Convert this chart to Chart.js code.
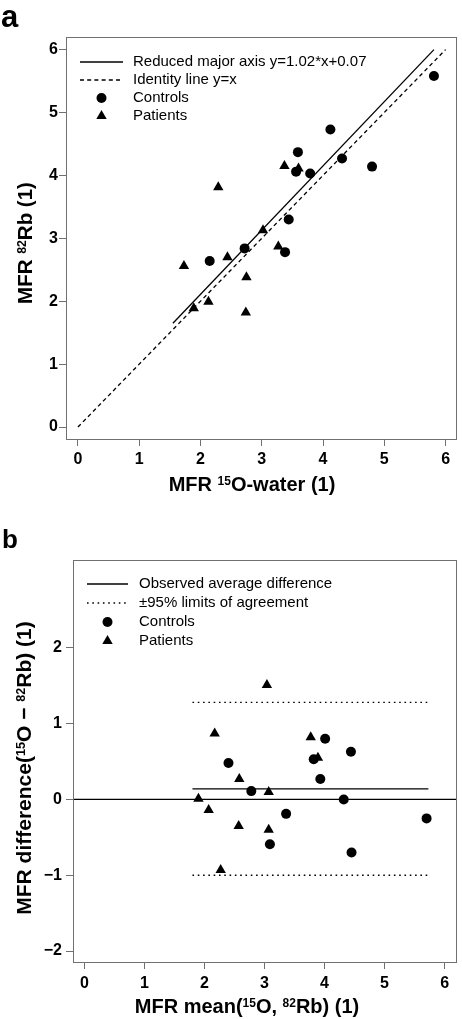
<!DOCTYPE html>
<html>
<head>
<meta charset="utf-8">
<script src="https://cdn.jsdelivr.net/npm/chart.js@4.4.1/dist/chart.umd.min.js"></script>
<style>
  body { margin: 0; background: #fff; }
  canvas { position: absolute; left: 0; }
</style>
</head>
<body>
<canvas id="chartA" width="462" height="500" style="top:0"></canvas>
<canvas id="chartB" width="462" height="519" style="top:500px"></canvas>
<script>
// Panel a: MFR 15O-water vs MFR 82Rb
const controlsWaterA = [4.12, 3.59, 4.31, 4.80, 3.56, 3.79, 3.44, 2.72, 3.38, 2.15, 5.81];
const controlsRbA    = [4.73, 4.37, 4.27, 4.14, 4.06, 4.03, 3.30, 2.84, 2.78, 2.64, 5.58];
const patientsWaterA = [3.37, 3.60, 2.29, 3.02, 3.27, 1.73, 2.44, 2.75, 2.13, 1.89, 2.74];
const patientsRbA    = [4.15, 4.11, 3.81, 3.13, 2.87, 2.56, 2.70, 2.38, 1.99, 1.89, 1.82];
const rmaX = [1.55, 5.81];          // reduced major axis, end points
const rmaY = [1.65, 6.00];
const identityX = [0, 6];
const identityY = [0, 6];
const ticksA = [0, 1, 2, 3, 4, 5, 6];

// Panel b: Bland-Altman
const controlsMeanB = [4.01, 4.44, 2.40, 3.82, 3.93, 2.78, 4.32, 3.36, 5.70, 3.09, 4.45];
const controlsDiffB = [0.80, 0.63, 0.48, 0.53, 0.27, 0.11, 0.00, -0.19, -0.25, -0.59, -0.70];
const patientsMeanB = [3.04, 2.17, 3.77, 3.89, 2.58, 3.07, 1.90, 2.07, 2.57, 3.07, 2.27];
const patientsDiffB = [1.51, 0.87, 0.82, 0.55, 0.27, 0.10, 0.01, -0.14, -0.35, -0.40, -0.93];
const agreeX = [1.80, 5.73];
const meanDiff = 0.14;
const upperLimit = 1.28;
const lowerLimit = -1.00;
const ticksBx = [0, 1, 2, 3, 4, 5, 6];
const ticksBy = [-2, -1, 0, 1, 2];

const FONT = '"Liberation Sans", Arial, Helvetica, sans-serif';
const GREY = '#707070';

const pts = (xs, ys) => xs.map((x, i) => ({ x: x, y: ys[i] }));
const minus = v => (v < 0 ? '\u2212' + Math.abs(v) : String(v));

// text with superscripts, parts = [[text, isSup], ...]
function richWidth(ctx, parts, size) {
  let w = 0;
  parts.forEach(p => {
    ctx.font = 'bold ' + (p[1] ? size * 0.6 : size) + 'px ' + FONT;
    w += ctx.measureText(p[0]).width;
  });
  return w;
}
function drawRich(ctx, parts, cx, y, size) {
  let x = cx - richWidth(ctx, parts, size) / 2;
  ctx.textAlign = 'left';
  ctx.textBaseline = 'alphabetic';
  parts.forEach(p => {
    ctx.font = 'bold ' + (p[1] ? size * 0.6 : size) + 'px ' + FONT;
    ctx.fillText(p[0], x, p[1] ? y - size * 0.3 : y);
    x += ctx.measureText(p[0]).width;
  });
}

function drawLegend(ctx, items, x0, x1, xt, y0, dy) {
  ctx.save();
  ctx.fillStyle = '#000';
  ctx.strokeStyle = '#000';
  items.forEach((it, i) => {
    const y = y0 + i * dy;
    const xm = (x0 + x1) / 2;
    ctx.setLineDash([]);
    if (it.kind === 'line') {
      ctx.lineWidth = 1.3;
      ctx.setLineDash(it.dash);
      ctx.beginPath(); ctx.moveTo(x0, y); ctx.lineTo(x1, y); ctx.stroke();
    } else if (it.kind === 'circle') {
      ctx.beginPath(); ctx.arc(xm, y, 5, 0, Math.PI * 2); ctx.fill();
    } else {
      const r = 6;
      ctx.beginPath();
      ctx.moveTo(xm, y - r);
      ctx.lineTo(xm + r * 0.866, y + r / 2);
      ctx.lineTo(xm - r * 0.866, y + r / 2);
      ctx.closePath(); ctx.fill();
    }
    ctx.setLineDash([]);
    ctx.font = '15px ' + FONT;
    ctx.textAlign = 'left';
    ctx.textBaseline = 'middle';
    ctx.fillText(it.text, xt, y);
  });
  ctx.restore();
}

function decorations(opts) {
  return {
    id: 'decor',
    afterDraw(chart) {
      const ctx = chart.ctx;
      const a = chart.chartArea;
      ctx.save();
      ctx.strokeStyle = GREY;
      ctx.lineWidth = 1;
      ctx.strokeRect(Math.round(a.left) + 0.5, Math.round(a.top) + 0.5,
                     Math.round(a.right - a.left), Math.round(a.bottom - a.top));
      ctx.fillStyle = '#000';
      // panel letter
      ctx.font = 'bold ' + opts.letterSize + 'px ' + FONT;
      ctx.textAlign = 'left';
      ctx.textBaseline = 'alphabetic';
      ctx.fillText(opts.letter, opts.letterX, opts.letterY);
      // axis titles
      drawRich(ctx, opts.xTitle, opts.xTitleX, opts.xTitleY, 20);
      ctx.save();
      ctx.translate(opts.yTitleX, opts.yTitleY);
      ctx.rotate(-Math.PI / 2);
      drawRich(ctx, opts.yTitle, 0, 0, opts.yTitleSize);
      ctx.restore();
      ctx.restore();
      drawLegend(ctx, opts.legend, opts.lx0, opts.lx1, opts.lxt, opts.ly0, opts.ldy);
    }
  };
}

function axis(min, max, ticks, isX, size, pad) {
  return {
    type: 'linear',
    min: min, max: max,
    afterBuildTicks: s => { s.ticks = ticks.map(v => ({ value: v })); },
    afterFit: s => { if (isX) s.height = size; else s.width = size; },
    grid: { drawOnChartArea: false, drawTicks: true, tickLength: 7, tickColor: GREY, color: GREY },
    border: { display: false },
    ticks: {
      color: '#000', padding: pad, maxRotation: 0, autoSkip: false,
      font: { family: FONT, size: 16, weight: 'bold' },
      callback: v => minus(v)
    }
  };
}

const lineDs = (data, dash) => ({
  type: 'scatter', data: data, showLine: true, pointRadius: 0,
  borderColor: '#000', borderWidth: 1.3, borderDash: dash, fill: false
});
const circleDs = data => ({
  type: 'scatter', data: data, pointStyle: 'circle', pointRadius: 5,
  backgroundColor: '#000', borderWidth: 0
});
const triDs = data => ({
  type: 'scatter', data: data, pointStyle: 'triangle', pointRadius: 6,
  backgroundColor: '#000', borderWidth: 0
});

const baseOptions = {
  responsive: false,
  animation: false,
  plugins: { legend: { display: false }, tooltip: { enabled: false } }
};

new Chart(document.getElementById('chartA'), {
  type: 'scatter',
  data: {
    datasets: [
      lineDs(pts(rmaX, rmaY), []),
      lineDs(pts(identityX, identityY), [4, 3.2]),
      circleDs(pts(controlsWaterA, controlsRbA)),
      triDs(pts(patientsWaterA, patientsRbA))
    ]
  },
  options: Object.assign({}, baseOptions, {
    layout: { padding: { left: 0, right: 4, top: 37, bottom: 0 } },
    scales: {
      x: axis(-0.195, 6.17, ticksA, true, 61, 4),
      y: axis(-0.19, 6.2, ticksA, false, 66, 1)
    }
  }),
  plugins: [decorations({
    letter: 'a', letterSize: 31, letterX: 1, letterY: 27,
    xTitle: [['MFR ', false], ['15', true], ['O-water (1)', false]], xTitleX: 252, xTitleY: 491,
    yTitle: [['MFR ', false], ['82', true], ['Rb (1)', false]], yTitleX: 32, yTitleY: 243, yTitleSize: 20.5,
    legend: [
      { kind: 'line', dash: [], text: 'Reduced major axis y=1.02*x+0.07' },
      { kind: 'line', dash: [4, 3.2], text: 'Identity line y=x' },
      { kind: 'circle', text: 'Controls' },
      { kind: 'triangle', text: 'Patients' }
    ],
    lx0: 80, lx1: 123, lxt: 133, ly0: 62, ldy: 18
  })]
});

new Chart(document.getElementById('chartB'), {
  type: 'scatter',
  data: {
    datasets: [
      lineDs(pts([-0.19, 6.19], [0, 0]), []),
      lineDs(pts(agreeX, [meanDiff, meanDiff]), []),
      lineDs(pts(agreeX, [upperLimit, upperLimit]), [1.6, 3.7]),
      lineDs(pts(agreeX, [lowerLimit, lowerLimit]), [1.6, 3.7]),
      circleDs(pts(controlsMeanB, controlsDiffB)),
      triDs(pts(patientsMeanB, patientsDiffB))
    ]
  },
  options: Object.assign({}, baseOptions, {
    layout: { padding: { left: 0, right: 3, top: 60, bottom: 0 } },
    scales: {
      x: axis(-0.19, 6.19, ticksBx, true, 57, 5),
      y: axis(-2.145, 3.16, ticksBy, false, 73, 4)
    }
  }),
  plugins: [decorations({
    letter: 'b', letterSize: 26, letterX: 2, letterY: 48,
    xTitle: [['MFR mean(', false], ['15', true], ['O, ', false], ['82', true], ['Rb) (1)', false]], xTitleX: 247, xTitleY: 513,
    yTitle: [['MFR difference(', false], ['15', true], ['O \u2212 ', false], ['82', true], ['Rb) (1)', false]], yTitleX: 31, yTitleY: 268, yTitleSize: 21,
    legend: [
      { kind: 'line', dash: [], text: 'Observed average difference' },
      { kind: 'line', dash: [1.6, 3.7], text: '\u00b195% limits of agreement' },
      { kind: 'circle', text: 'Controls' },
      { kind: 'triangle', text: 'Patients' }
    ],
    lx0: 87, lx1: 128, lxt: 139, ly0: 84, ldy: 19
  })]
});
</script>
</body>
</html>
